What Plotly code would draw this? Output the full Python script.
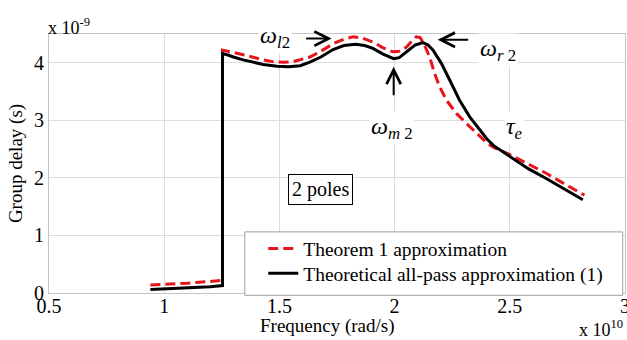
import plotly.graph_objects as go

# Frequency axis in units of 1e10 rad/s, group delay in units of 1e-9 s
freq_theorem = [0.94, 1.0, 1.1, 1.2, 1.253, 1.253, 1.28, 1.30, 1.343, 1.39, 1.43, 1.47, 1.516,
                1.56, 1.60, 1.632, 1.68, 1.733, 1.78, 1.82, 1.86, 1.906, 1.95, 1.993, 2.02,
                2.051, 2.075, 2.094, 2.11, 2.123, 2.137, 2.152, 2.174, 2.196, 2.225,
                2.268, 2.326, 2.40, 2.43, 2.513, 2.58, 2.658, 2.74, 2.824]
delay_theorem = [0.14, 0.15, 0.17, 0.20, 0.22, 4.22, 4.20, 4.18, 4.14, 4.09, 4.05, 4.02, 4.01,
                 4.02, 4.06, 4.10, 4.20, 4.33, 4.41, 4.45, 4.43, 4.36, 4.26, 4.19, 4.20,
                 4.27, 4.38, 4.45, 4.44, 4.36, 4.24, 4.10, 3.81, 3.58, 3.35,
                 3.12, 2.89, 2.61, 2.53, 2.38, 2.24, 2.08, 1.89, 1.70]

freq_allpass = [0.94, 1.0, 1.1, 1.2, 1.253, 1.253, 1.28, 1.30, 1.343, 1.39, 1.43, 1.49, 1.54,
                1.59, 1.632, 1.68, 1.733, 1.78, 1.83, 1.87, 1.906, 1.95, 1.996, 2.02,
                2.051, 2.09, 2.123, 2.145, 2.167, 2.203, 2.239, 2.282, 2.326,
                2.40, 2.43, 2.499, 2.58, 2.658, 2.74, 2.817]
delay_allpass = [0.06, 0.07, 0.09, 0.11, 0.13, 4.16, 4.13, 4.10, 4.05, 4.00, 3.97, 3.94, 3.93,
                 3.95, 4.01, 4.10, 4.23, 4.30, 4.32, 4.30, 4.25, 4.15, 4.07, 4.09,
                 4.19, 4.31, 4.35, 4.31, 4.22, 3.99, 3.70, 3.35, 3.06,
                 2.68, 2.56, 2.37, 2.16, 1.99, 1.80, 1.62]

x_ticks = [0.5, 1, 1.5, 2, 2.5, 3]
x_tick_labels = ["0.5", "1", "1.5", "2", "2.5", "3"]
y_ticks = [0, 1, 2, 3, 4]
y_tick_labels = ["0", "1", "2", "3", "4"]

FONT = "Liberation Serif"
GRID = "#dcdcdc"
FRAME = "#c4c4c4"


def serif(size):
    return dict(family=FONT, size=size, color="black")


fig = go.Figure()
fig.add_trace(go.Scatter(
    x=freq_theorem, y=delay_theorem, mode="lines",
    name="Theorem 1 approximation", legend="legend",
    line=dict(color="#e8141c", width=3, dash="10px,5px"),
))
fig.add_trace(go.Scatter(
    x=freq_allpass, y=delay_allpass, mode="lines",
    name="Theoretical all-pass approximation (1)", legend="legend2",
    line=dict(color="black", width=3),
))

legend_common = dict(
    xanchor="left", yanchor="top",
    bgcolor="rgba(0,0,0,0)", borderwidth=0,
    font=serif(19.5), itemwidth=30,
)
fig.update_layout(
    width=627, height=340,
    margin=dict(l=49, r=2, t=34, b=47, autoexpand=False),
    paper_bgcolor="white", plot_bgcolor="white",
    font=serif(18),
    showlegend=True,
    legend=dict(x=0.372, y=0.246, **legend_common),
    legend2=dict(x=0.372, y=0.150, **legend_common),
)

# Legend frame
fig.add_shape(type="rect", xref="paper", yref="paper",
              x0=0.34, x1=0.996, y0=-0.009, y1=0.236,
              line=dict(color="#a0a0a0", width=1), fillcolor="white", layer="above")

fig.update_xaxes(
    range=[0.5, 3], tickvals=x_ticks, ticktext=x_tick_labels,
    showgrid=True, gridcolor=GRID, gridwidth=1,
    showline=True, linecolor=FRAME, linewidth=1, mirror=True,
    ticks="", ticklen=0, zeroline=False, automargin=False,
    tickfont=serif(20), ticklabelstandoff=-5, ticklabeloverflow="allow",
)
fig.update_yaxes(
    range=[0, 4.5], tickvals=y_ticks, ticktext=y_tick_labels,
    showgrid=True, gridcolor=GRID, gridwidth=1,
    showline=True, linecolor=FRAME, linewidth=1, mirror=True,
    ticks="", zeroline=False, automargin=False,
    title=dict(text="Group delay (s)", font=serif(19), standoff=6),
    tickfont=serif(20),
)

# Horizontal axis title
fig.add_annotation(xref="paper", yref="paper", x=0.483, y=0, xanchor="center", yanchor="top",
                   text="Frequency (rad/s)", showarrow=False, font=serif(19), yshift=-20)

# Exponent labels for both axes
fig.add_annotation(xref="paper", yref="paper", x=0, y=1, xanchor="left", yanchor="bottom",
                   text="x 10<sup>-9</sup>", showarrow=False, font=serif(18),
                   xshift=-3, yshift=-6)
fig.add_annotation(xref="paper", yref="paper", x=1, y=0, xanchor="right", yanchor="top",
                   text="x 10<sup>10</sup>", showarrow=False, font=serif(18),
                   yshift=-22)

# Frequency markers
greek = serif(24)
fig.add_annotation(x=1.48, y=4.44, text="<i>ω</i><sub><i>l</i>2</sub>",
                   showarrow=False, font=greek, bgcolor="white")
fig.add_annotation(x=2.45, y=4.23, text="<i>ω</i><sub><i>r</i> 2</sub>",
                   showarrow=False, font=greek, bgcolor="white")
fig.add_annotation(x=1.99, y=2.86, text="<i>ω</i><sub><i>m</i> 2</sub>",
                   showarrow=False, font=greek, bgcolor="white")
fig.add_annotation(x=2.52, y=2.86, text="<i>τ</i><sub><i>e</i></sub>",
                   showarrow=False, font=greek, bgcolor="white")

arrow = dict(showarrow=True, arrowhead=5, arrowsize=1.4, arrowwidth=2,
             arrowcolor="black", text="")
fig.add_annotation(x=1.727, y=4.42, ax=-27, ay=0, **arrow)
fig.add_annotation(x=2.187, y=4.40, ax=32, ay=0, **arrow)
fig.add_annotation(x=1.996, y=3.93, ax=0, ay=30, **arrow)

# Pole count label
fig.add_annotation(x=1.677, y=1.80, text="2 poles", showarrow=False,
                   font=serif(20), bgcolor="white",
                   bordercolor="black", borderwidth=1, borderpad=3)

fig.write_html("out.html")
